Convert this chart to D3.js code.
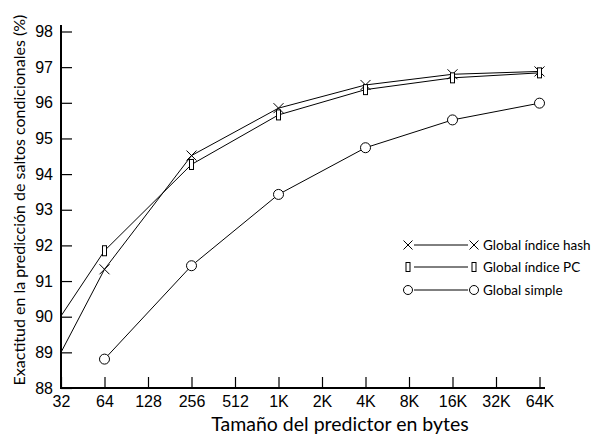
<!DOCTYPE html>
<html>
<head>
<meta charset="utf-8">
<script src="https://cdn.jsdelivr.net/npm/d3@7"></script>
<style>
  body { margin: 0; background: #fff; }
</style>
</head>
<body>
<script>
// Tamaños del predictor (eje x) y exactitud (%) de cada esquema
let sizes = ["32", "64", "128", "256", "512", "1K", "2K", "4K", "8K", "16K", "32K", "64K"];
let yTicks = [88, 89, 90, 91, 92, 93, 94, 95, 96, 97, 98];

let hashSizes = ["32", "64", "256", "1K", "4K", "16K", "64K"];
let hashValues = [89.0, 91.33, 94.52, 95.85, 96.5, 96.8, 96.88];

let pcSizes = ["32", "64", "256", "1K", "4K", "16K", "64K"];
let pcValues = [90.02, 91.85, 94.27, 95.66, 96.37, 96.7, 96.84];

let simpleSizes = ["64", "256", "1K", "4K", "16K", "64K"];
let simpleValues = [88.81, 91.43, 93.43, 94.74, 95.52, 95.99];

let seriesNames = ["Global índice hash", "Global índice PC", "Global simple"];

let width = 593;
let height = 439;
let marginLeft = 61;
let marginTop = 31.5;
let plotRight = 539.5;
let plotBottom = 388;

let svg = d3.select("body").append("svg")
    .attr("width", width)
    .attr("height", height)
    .attr("viewBox", [0, 0, width, height]);

let x = d3.scalePoint()
    .domain(sizes)
    .range([marginLeft, plotRight]);

let y = d3.scaleLinear()
    .domain([88, 98])
    .range([plotBottom, marginTop]);

// Eje x (marcas hacia dentro)
svg.append("g")
    .attr("transform", `translate(0,${plotBottom})`)
    .call(d3.axisBottom(x).tickSize(-11).tickPadding(8))
    .call(g => g.select(".domain").remove())
    .call(g => g.selectAll(".tick line").attr("stroke", "#000").attr("stroke-width", 1.2))
    .call(g => g.selectAll("text")
        .attr("fill", "#000")
        .style("font-family", "'Liberation Sans', Arial, sans-serif")
        .style("font-size", "16px"));

// Eje y
svg.append("g")
    .attr("transform", `translate(${marginLeft},0)`)
    .call(d3.axisLeft(y).tickValues(yTicks).tickSize(-11).tickPadding(8))
    .call(g => g.select(".domain").remove())
    .call(g => g.selectAll(".tick line").attr("stroke", "#000").attr("stroke-width", 1.2))
    .call(g => g.selectAll("text")
        .attr("fill", "#000")
        .style("font-family", "'Liberation Sans', Arial, sans-serif")
        .style("font-size", "16px"));

// Líneas de los ejes
svg.append("line")
    .attr("x1", marginLeft).attr("x2", marginLeft)
    .attr("y1", plotBottom + 1).attr("y2", 25)
    .attr("stroke", "#000").attr("stroke-width", 2);
svg.append("line")
    .attr("x1", marginLeft - 1).attr("x2", 545)
    .attr("y1", plotBottom).attr("y2", plotBottom)
    .attr("stroke", "#000").attr("stroke-width", 2);

// Títulos de los ejes
svg.append("text")
    .attr("x", 340)
    .attr("y", 431)
    .attr("text-anchor", "middle")
    .style("font-family", "Lato, sans-serif")
    .style("font-size", "19.5px")
    .text("Tamaño del predictor en bytes");

svg.append("text")
    .attr("transform", "translate(25,200) rotate(-90)")
    .attr("text-anchor", "middle")
    .style("font-family", "Lato, sans-serif")
    .style("font-size", "16px")
    .text("Exactitud en la predicción de saltos condicionales (%)");

// Marcadores
function drawMarker(g, type, cx, cy, s) {
    if (type === "x") {
        g.append("path")
            .attr("d", `M${cx - s},${cy - s}L${cx + s},${cy + s}M${cx - s},${cy + s}L${cx + s},${cy - s}`)
            .attr("stroke", "#000").attr("stroke-width", 1).attr("fill", "none");
    } else if (type === "rect") {
        g.append("rect")
            .attr("x", cx - 2).attr("y", cy - s)
            .attr("width", 4).attr("height", 2 * s)
            .attr("stroke", "#000").attr("stroke-width", 1).attr("fill", "#fff");
    } else {
        g.append("circle")
            .attr("cx", cx).attr("cy", cy).attr("r", s)
            .attr("stroke", "#000").attr("stroke-width", 1).attr("fill", "#fff");
    }
}

let series = [
    { keys: hashSizes, values: hashValues, marker: "x" },
    { keys: pcSizes, values: pcValues, marker: "rect" },
    { keys: simpleSizes, values: simpleValues, marker: "circle" }
];

let line = d3.line()
    .x(d => x(d[0]))
    .y(d => y(d[1]));

series.forEach(s => {
    let pts = s.keys.map((k, i) => [k, s.values[i]]);
    svg.append("path")
        .datum(pts)
        .attr("fill", "none")
        .attr("stroke", "#000")
        .attr("stroke-width", 1)
        .attr("d", line);
    let g = svg.append("g");
    pts.filter(p => p[0] !== "32").forEach(p => drawMarker(g, s.marker, x(p[0]), y(p[1]), 5));
});

// Leyenda
let legend = svg.append("g");
let legendY = [245, 267, 290];
series.forEach((s, i) => {
    let ly = legendY[i];
    legend.append("line")
        .attr("x1", 414).attr("x2", 468)
        .attr("y1", ly).attr("y2", ly)
        .attr("stroke", "#000").attr("stroke-width", 1);
    drawMarker(legend, s.marker, 408, ly, 4.5);
    drawMarker(legend, s.marker, 474, ly, 4.5);
    legend.append("text")
        .attr("x", 483)
        .attr("y", ly + 4.5)
        .style("font-family", "Lato, sans-serif")
        .style("font-size", "13.5px")
        .text(seriesNames[i]);
});
</script>
</body>
</html>
